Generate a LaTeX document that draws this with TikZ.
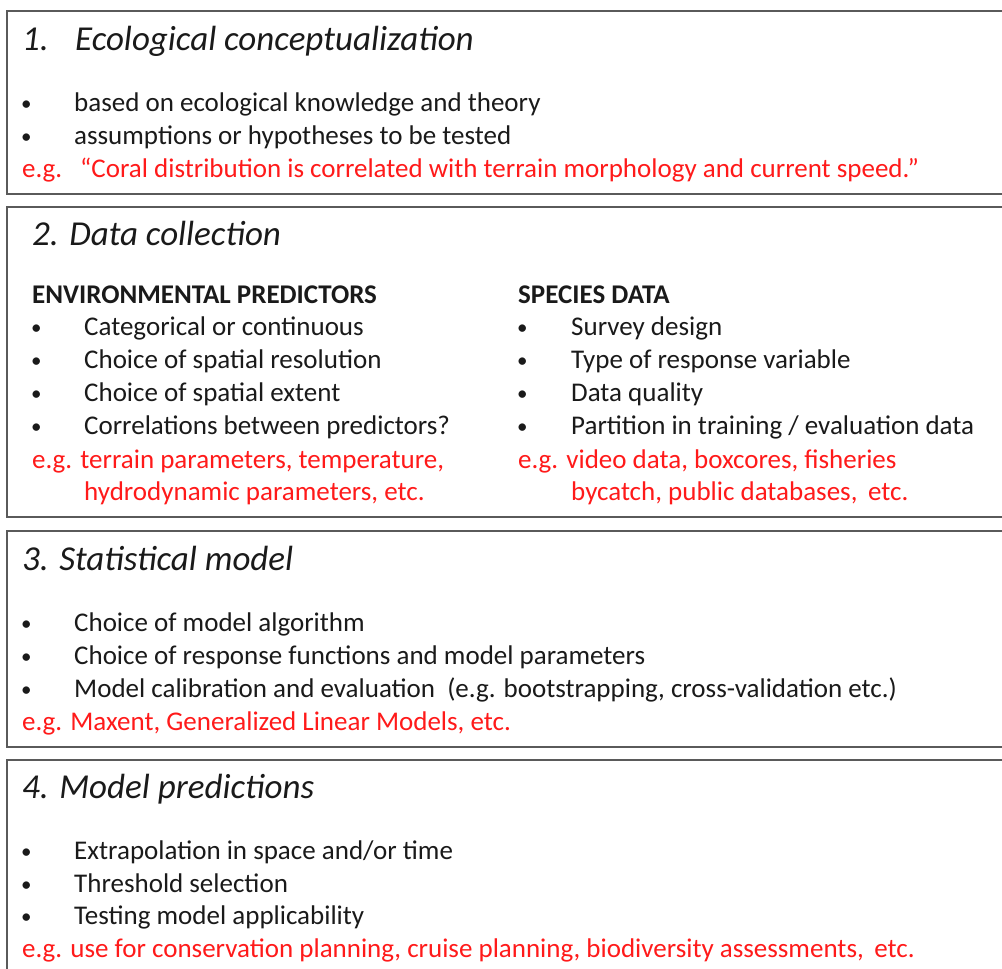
\documentclass[tikz,border=0pt]{standalone}
\usepackage{fontspec}
\setmainfont{Carlito}
\definecolor{boxline}{HTML}{5A5A5A}
\definecolor{bodytext}{HTML}{1A1A1A}
\definecolor{exred}{HTML}{FF1A1A}
\begin{document}
\begin{tikzpicture}[x=1pt,y=-1pt,
  panel/.style={draw=boxline, line width=2.2pt, fill=white},
  heading/.style={anchor=base west, inner sep=0pt, text=bodytext,
    font=\fontsize{35}{42}\selectfont\itshape},
  body/.style={anchor=base west, inner sep=0pt, text=bodytext,
    font=\fontsize{27}{33}\selectfont},
  colhead/.style={body, font=\fontsize{27}{33}\selectfont\bfseries},
  example/.style={body, text=exred},
  dot/.style={anchor=base west, inner sep=0pt, text=bodytext,
    font=\fontsize{21}{25}\selectfont, yshift=1pt}]
\useasboundingbox (0,0) rectangle (1002,969);
\clip (0,0) rectangle (1002,969);

% the four stage panels (they run past the right and bottom edges)
\draw[panel] (7,11) rectangle (1030,194);
\draw[panel] (7,207) rectangle (1030,517);
\draw[panel] (7,531) rectangle (1030,747);
\draw[panel] (7,760) rectangle (1030,1010);

% 1. Ecological conceptualization
\node[heading] (t1n) at (22,50) {1.};
\node[heading] (t1) at (75,50) {Ecological conceptualization};
\node[dot] (d1a) at (21,111) {•};
\node[body] (l1a) at (74,111) {based on ecological knowledge and theory};
\node[dot] (d1b) at (21,144) {•};
\node[body] (l1b) at (74,144) {assumptions or hypotheses to be tested};
\node[example] (e1a) at (22,177) {e.g.};
\node[example] (e1b) at (80,177) {“Coral distribution is correlated with terrain morphology and current speed.”};

% 2. Data collection
\node[heading] (t2) at (32,245) {2. Data collection};
\node[colhead] (h2l) at (32,303) {ENVIRONMENTAL PREDICTORS};
\node[dot] (d2a) at (31,335) {•};
\node[body] (l2a) at (84,335) {Categorical or continuous};
\node[dot] (d2b) at (31,368) {•};
\node[body] (l2b) at (84,368) {Choice of spatial resolution};
\node[dot] (d2c) at (31,401) {•};
\node[body] (l2c) at (84,401) {Choice of spatial extent};
\node[dot] (d2d) at (31,434) {•};
\node[body] (l2d) at (84,434) {Correlations between predictors?};
\node[example] (e2a) at (32,468) {e.g. terrain parameters, temperature,};
\node[example] (e2b) at (84,500) {hydrodynamic parameters, etc.};

\node[colhead] (h2r) at (518,303) {SPECIES DATA};
\node[dot] (d2e) at (517,335) {•};
\node[body] (l2e) at (571,335) {Survey design};
\node[dot] (d2f) at (517,368) {•};
\node[body] (l2f) at (571,368) {Type of response variable};
\node[dot] (d2g) at (517,401) {•};
\node[body] (l2g) at (571,401) {Data quality};
\node[dot] (d2h) at (517,434) {•};
\node[body] (l2h) at (571,434) {Partition in training / evaluation data};
\node[example] (e2c) at (518,468) {e.g. video data, boxcores, fisheries};
\node[example] (e2d) at (571,500) {bycatch, public databases,\ \,etc.};

% 3. Statistical model
\node[heading] (t3) at (22,570) {3. Statistical model};
\node[dot] (d3a) at (21,631) {•};
\node[body] (l3a) at (74,631) {Choice of model algorithm};
\node[dot] (d3b) at (21,664) {•};
\node[body] (l3b) at (74,664) {Choice of response functions and model parameters};
\node[dot] (d3c) at (21,697) {•};
\node[body] (l3c) at (74,697) {Model calibration and evaluation\ \ (e.g. bootstrapping, cross-validation etc.)};
\node[example] (e3) at (22,730) {e.g. Maxent, Generalized Linear Models, etc.};

% 4. Model predictions
\node[heading] (t4) at (22,798) {4. Model predictions};
\node[dot] (d4a) at (21,859) {•};
\node[body] (l4a) at (74,859) {Extrapolation in space and/or time};
\node[dot] (d4b) at (21,892) {•};
\node[body] (l4b) at (74,892) {Threshold selection};
\node[dot] (d4c) at (21,924) {•};
\node[body] (l4c) at (74,924) {Testing model applicability};
\node[example] (e4) at (22,957) {e.g. use for conservation planning, cruise planning, biodiversity assessments,\ \,etc.};
\end{tikzpicture}
\end{document}
